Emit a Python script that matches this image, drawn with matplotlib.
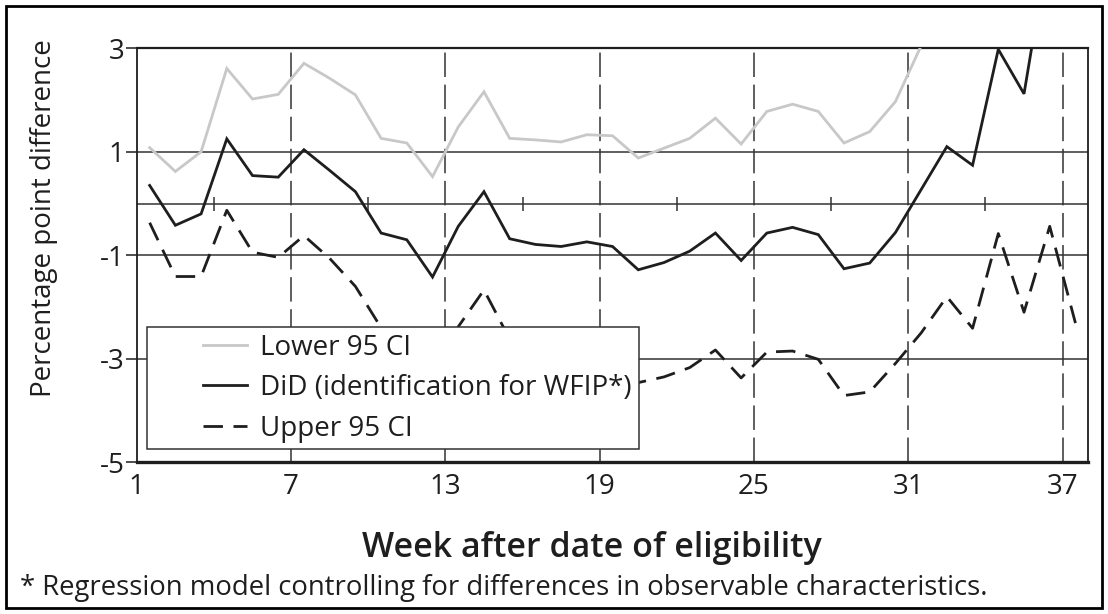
import matplotlib
matplotlib.use("Agg")
import matplotlib.pyplot as plt
from matplotlib.patches import Rectangle
from matplotlib.legend_handler import HandlerLine2D

# ---- data ----
week_mid = [1.5, 2.5, 3.5, 4.5, 5.5, 6.5, 7.5, 8.5, 9.5, 10.5, 11.5, 12.5, 13.5,
            14.5, 15.5, 16.5, 17.5, 18.5, 19.5, 20.5, 21.5, 22.5, 23.5, 24.5, 25.5,
            26.5, 27.5, 28.5, 29.5, 30.5, 31.5, 32.5, 33.5, 34.5, 35.5, 36.5, 37.5]

lower_ci = [1.08, 0.62, 1.00, 2.61, 2.02, 2.11, 2.71, 2.42, 2.10, 1.26, 1.17, 0.52,
            1.48, 2.16, 1.26, 1.23, 1.19, 1.33, 1.31, 0.88, 1.07, 1.26, 1.65, 1.15,
            1.78, 1.92, 1.78, 1.17, 1.39, 1.97, 3.05, 4.00, 3.90, 6.50, 6.30, 10.6, 10.3]

did = [0.35, -0.42, -0.20, 1.25, 0.54, 0.51, 1.04, 0.64, 0.23, -0.57, -0.70, -1.42,
       -0.44, 0.23, -0.68, -0.79, -0.83, -0.74, -0.83, -1.28, -1.14, -0.92, -0.57,
       -1.10, -0.57, -0.46, -0.60, -1.26, -1.15, -0.56, 0.27, 1.10, 0.74, 2.98, 2.12,
       5.10, 4.00]

upper_ci = [-0.37, -1.41, -1.41, -0.13, -0.94, -1.04, -0.62, -1.06, -1.60, -2.40,
            -2.57, -3.36, -2.38, -1.67, -2.62, -2.81, -2.85, -2.81, -2.97, -3.46,
            -3.35, -3.17, -2.83, -3.37, -2.87, -2.85, -3.01, -3.71, -3.64, -3.09,
            -2.50, -1.80, -2.41, -0.58, -2.10, -0.44, -2.31]

x_ticks = [1, 7, 13, 19, 25, 31, 37]
x_minor_marks = [4, 10, 16, 22, 28, 34]
y_ticks = [3, 1, -1, -3, -5]
y_ticklabels = ["3", "1", "-1", "-3", "-5"]

series_labels = ["Lower 95 CI", "DiD (identification for WFIP*)", "Upper 95 CI"]
x_label = "Week after date of eligibility"
y_label = "Percentage point difference"
footnote = "* Regression model controlling for differences in observable characteristics."

# ---- style ----
plt.rcParams['font.family'] = ['Open Sans', 'DejaVu Sans']
FS = 20
INK = "#1e1e1e"
GRID = "#333333"

fig = plt.figure(figsize=(11.08, 6.14), dpi=100)
ax = fig.add_axes([136.8 / 1108, 1 - 462.3 / 614, (1088.3 - 136.8) / 1108, (462.3 - 48.3) / 614])

ax.set_xlim(1, 38)
ax.set_ylim(-5, 3)

# horizontal gridlines and the zero axis
for yv in [1, -1, -3]:
    ax.axhline(yv, color=GRID, lw=1.1, zorder=1)
ax.axhline(0, color=GRID, lw=1.1, zorder=1)
ax.plot(x_minor_marks, [0] * len(x_minor_marks), ls='none', marker='|', ms=10,
        mew=1.1, color=GRID, zorder=1)

# vertical dashed gridlines
for xv in x_ticks[1:]:
    ax.axvline(xv, color=GRID, lw=1.1, ls=(0, (16, 5)), zorder=1)

l1, = ax.plot(week_mid, lower_ci, color="#c8c8c8", lw=2.0, zorder=3,
              solid_joinstyle='miter')
l2, = ax.plot(week_mid, did, color=INK, lw=2.0, zorder=4, solid_joinstyle='miter')
l3, = ax.plot(week_mid, upper_ci, color=INK, lw=2.0, ls=(0, (7.0, 3.8)), zorder=4)

# spines
for s in ['left', 'right']:
    ax.spines[s].set_linewidth(1.3)
    ax.spines[s].set_color(INK)
ax.spines['top'].set_linewidth(1.6)
ax.spines['top'].set_color(INK)
ax.spines['bottom'].set_linewidth(2.4)
ax.spines['bottom'].set_color(INK)

ax.set_xticks(x_ticks)
ax.set_xticklabels([str(v) for v in x_ticks])
ax.set_yticks(y_ticks)
ax.set_yticklabels(y_ticklabels)
ax.tick_params(axis='x', length=0, pad=8, labelsize=FS, colors=INK)
ax.tick_params(axis='y', length=8, width=1.1, pad=1, labelsize=FS, colors=INK,
               direction='out')

ax.set_xlabel(x_label, fontsize=24.5, fontweight='semibold', color=INK)
ax.xaxis.label.set_va('center')
ax.xaxis.set_label_coords(0.478, -(548 - 462.3) / 414)
ax.set_ylabel(y_label, fontsize=20, color=INK)
ax.yaxis.label.set_va('center')
ax.yaxis.set_label_coords(-0.098, 0.59)

hmap = {l: HandlerLine2D(xpad=1.76) for l in (l1, l2, l3)}
leg = ax.legend([l1, l2, l3], series_labels, loc='lower left',
                bbox_to_anchor=(0.0107, 0.031), borderaxespad=0, fontsize=FS,
                frameon=True, fancybox=False, framealpha=1, edgecolor=GRID,
                handlelength=3.35, handletextpad=0.47, borderpad=0.25,
                labelspacing=0.45, handler_map=hmap)
leg.get_frame().set_linewidth(1.1)
leg.set_zorder(10)
for t in leg.get_texts():
    t.set_color(INK)

fig.text(20 / 1108, 1 - 588 / 614, footnote, fontsize=19.8, color=INK,
         ha='left', va='center')

fig.patches.append(Rectangle((6 / 1108, 6 / 614), 1 - 12 / 1108, 1 - 12 / 614,
                             transform=fig.transFigure, fill=False,
                             edgecolor="black", lw=2))

fig.savefig("out.png", dpi=100)
